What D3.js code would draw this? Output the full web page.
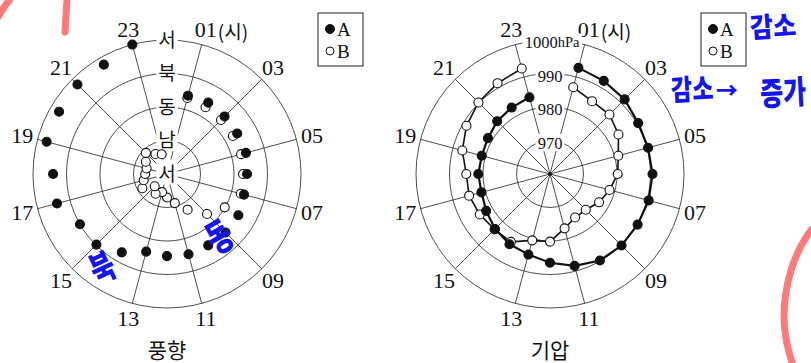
<!DOCTYPE html>
<html><head><meta charset="utf-8">
<script src="https://cdn.jsdelivr.net/npm/d3@7/dist/d3.min.js"></script>
<style>body{margin:0;background:#fff}svg{display:block}</style>
</head><body>
<svg id="c" width="811" height="363"></svg>
<script>
// ---- data ----
const hours = [1,2,3,4,5,6,7,8,9,10,11,12,13,14,15,16,17,18,19,20,21,22,23];
const hourTicks = [1,3,5,7,9,11,13,15,17,19,21,23];
const hourTickLabels = ["01","03","05","07","09","11","13","15","17","19","21","23"];
// wind direction: radial position 0=서(centre),1=남,2=동,3=북,4=서(outer)
const windRingLabels = ["서","남","동","북","서"];
const windRingValues = [0,1,2,3,4];
const windA = [2.42,2.46,2.43,2.42,2.44,2.39,2.38,2.46,2.47,2.46,2.48,2.45,2.40,2.70,2.98,3.00,3.40,3.40,3.72,3.72,3.78,3.77,4.00];
const windB = [2.35,2.30,2.28,2.27,2.29,2.27,2.28,1.99,1.69,1.23,0.90,0.70,0.56,0.68,0.52,0.85,0.72,0.65,0.63,0.73,0.89,0.69,0.61];
// pressure (hPa)
const pressureRings = [970,980,990,1000];
const pressureA = [992.8,992.1,991.5,990.4,990.3,990.6,990.5,990.2,990.2,989.8,988.4,986.5,984.9,984.2,983.2,982.0,981.2,981.4,981.1,981.4,982.3,982.9,983.7];
const pressureB = [986.8,985.1,985.1,983.6,981.1,980.2,978.4,976.9,975.1,975.0,976.8,980.2,980.5,983.4,983.4,984.2,985.0,985.0,987.1,988.8,990.2,991.3,992.6];
const seriesNames = ["A","B"];

// ---- layout ----
const svg = d3.select("#c");
const R = 134;
const serif = "'Liberation Serif','DejaVu Serif',serif";
const kfont = "'Noto Sans CJK KR','Noto Sans',sans-serif";
const angle = d3.scaleLinear().domain([0,24]).range([0,2*Math.PI]);
const rWind = d3.scaleLinear().domain([0,4]).range([0,R]);
const rPres = d3.scaleLinear().domain([960,1000]).range([0,R]);

function frame(cx, cy, rScale, ringVals, title){
  const g = svg.append("g").attr("transform",`translate(${cx},${cy})`);
  const grid = g.append("g").attr("fill","none").attr("stroke","#222").attr("stroke-width",0.8);
  ringVals.filter(v=>rScale(v)>0).forEach(v=>{
    grid.append("circle").attr("r",rScale(v));
  });
  hourTicks.forEach(h=>{
    const p = d3.pointRadial(angle(h), R);
    grid.append("line").attr("x1",0).attr("y1",0).attr("x2",p[0]).attr("y2",p[1]);
  });
  hourTicks.forEach((h,i)=>{
    const p = d3.pointRadial(angle(h), 150);
    g.append("text").attr("x",p[0]).attr("y",p[1]).attr("text-anchor","middle")
      .attr("dominant-baseline","central").attr("font-family",serif).attr("font-size",22)
      .attr("fill","#111").text(hourTickLabels[i]);
    if(h===1){
      g.append("text").attr("x",p[0]+12).attr("y",p[1]+1).attr("dominant-baseline","central")
        .attr("font-family",kfont).attr("font-size",19).attr("fill","#111").text("(시)");
    }
  });
  g.append("text").attr("x",0).attr("y",R+41).attr("text-anchor","middle")
    .attr("dominant-baseline","central").attr("font-family",kfont).attr("font-size",21)
    .attr("fill","#111").text(title);
  return g;
}
function ringLabel(g, y, build){
  const lg = g.append("g");
  const bg = lg.append("rect").attr("fill","#fff");
  const t = build(lg);
  const b = t.node().getBBox();
  bg.attr("x",b.x-2).attr("y",b.y+1).attr("width",b.width+4).attr("height",b.height-2);
}
function legend(x, y){
  const g = svg.append("g").attr("transform",`translate(${x},${y})`);
  g.append("rect").attr("width",45).attr("height",53).attr("fill","#fff").attr("stroke","#222").attr("stroke-width",1);
  seriesNames.forEach((s,i)=>{
    g.append("circle").attr("cx",12).attr("cy",16+i*22).attr("r",i===0?4.5:4)
      .attr("fill",i===0?"#111":"#fff").attr("stroke","#111").attr("stroke-width",1);
    g.append("text").attr("x",19).attr("y",16+i*22).attr("dominant-baseline","central")
      .attr("font-family",serif).attr("font-size",19).attr("fill","#111").text(s);
  });
}

// ---- left: wind direction ----
const gL = frame(167,174,rWind,windRingValues,"풍향");
windRingValues.forEach((v,i)=>{
  ringLabel(gL, -rWind(v), lg=> lg.append("text").attr("x",0).attr("y",-rWind(v)-2)
    .attr("text-anchor","middle").attr("dominant-baseline","central")
    .attr("font-family",kfont).attr("font-size",19).attr("fill","#111").text(windRingLabels[i]));
});
[[windB,"#fff"],[windA,"#111"]].forEach(([vals,fill])=>{
  gL.append("g").selectAll("circle").data(hours).join("circle")
    .attr("cx",(h,i)=>d3.pointRadial(angle(h), rWind(vals[i]))[0])
    .attr("cy",(h,i)=>d3.pointRadial(angle(h), rWind(vals[i]))[1])
    .attr("r",4.5).attr("fill",fill).attr("stroke","#111").attr("stroke-width",1.1);
});
legend(318,13);

// ---- right: pressure ----
const gR = frame(550,174,rPres,pressureRings,"기압");
pressureRings.forEach(v=>{
  ringLabel(gR, -rPres(v), lg=>{
    const t = lg.append("text").attr("x",v===1000?2:0).attr("y",-rPres(v)+2)
      .attr("text-anchor","middle").attr("dominant-baseline","central")
      .attr("font-family",serif).attr("font-size",16.5).attr("fill","#111");
    t.append("tspan").text(v);
    if(v===1000) t.append("tspan").attr("font-size",14.5).text("hPa");
    return t;
  });
});
gR.append("circle").attr("r",1.8).attr("fill","#111");
[[pressureB,"#fff",1.6],[pressureA,"#111",2.2]].forEach(([vals,fill,sw])=>{
  const line = d3.lineRadial().angle((h)=>angle(h)).radius((h,i)=>rPres(vals[i]));
  gR.append("path").attr("d",line(hours)).attr("fill","none").attr("stroke","#111").attr("stroke-width",sw);
});
[[pressureB,"#fff"],[pressureA,"#111"]].forEach(([vals,fill])=>{
  gR.append("g").selectAll("circle").data(hours).join("circle")
    .attr("cx",(h,i)=>d3.pointRadial(angle(h), rPres(vals[i]))[0])
    .attr("cy",(h,i)=>d3.pointRadial(angle(h), rPres(vals[i]))[1])
    .attr("r",4.5).attr("fill",fill).attr("stroke","#111").attr("stroke-width",1.1);
});
legend(701,13);

// ---- hand-drawn annotations ----
const ann = svg.append("g");
const pink = "#ff7b7b";
[["M-2,17 Q3,8 10,-1"],["M67,-1 L65,32"],["M812,229 C794,252 784,285 784,317 C784,337 789,352 793,366"]]
  .forEach(([d])=>ann.append("path").attr("d",d).attr("fill","none").attr("stroke",pink)
    .attr("stroke-width",7).attr("stroke-linecap","round"));
const blue = "#1515f0";
const notes = [
  {t:"북", x:101, y:265, rot:-25, fs:26, sy:1.35},
  {t:"동", x:218, y:234, rot:-30, fs:26, sy:1.45},
  {t:"감소", x:773, y:25, rot:-4, fs:25, sy:1.1},
  {t:"감소", x:692, y:87, rot:-3, fs:23, sy:1.25},
  {t:"→", x:727, y:88, rot:0, fs:22, sy:1},
  {t:"증가", x:783, y:90, rot:-3, fs:25, sy:1.3}
];
notes.forEach(n=>{
  ann.append("text").attr("transform",`translate(${n.x},${n.y}) rotate(${n.rot}) scale(1,${n.sy})`)
    .attr("text-anchor","middle").attr("dominant-baseline","central")
    .attr("font-family",kfont).attr("font-weight",900).attr("font-size",n.fs)
    .attr("fill",blue).text(n.t);
});
</script>
</body></html>
